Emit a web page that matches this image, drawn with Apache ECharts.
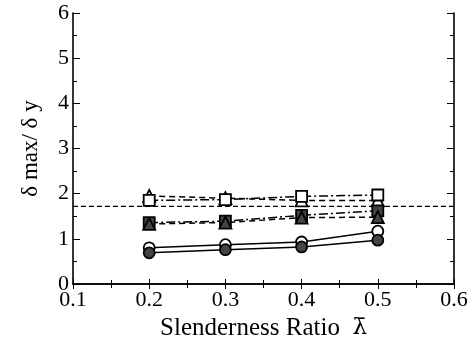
<!DOCTYPE html>
<html>
<head>
<meta charset="utf-8">
<script src="https://cdn.jsdelivr.net/npm/echarts@6/dist/echarts.min.js"></script>
<style>
  html, body { margin: 0; padding: 0; background: #fff; }
  #chart { width: 472px; height: 347px; }
</style>
</head>
<body>
<div id="chart"></div>
<script>
// Slenderness ratio values where results are sampled
const lambdaValues = [0.2, 0.3, 0.4, 0.5];

// δmax / δy for each case
const openTriangle = [1.95, 1.90, 1.85, 1.85];
const openSquare   = [1.85, 1.87, 1.94, 1.97];
const filledSquare = [1.36, 1.39, 1.52, 1.62];
const filledTriangle = [1.33, 1.36, 1.47, 1.48];
const openCircle   = [0.80, 0.87, 0.93, 1.17];
const filledCircle = [0.69, 0.76, 0.82, 0.97];

// Horizontal reference level
const referenceLevel = 1.72;
const xRange = [0.1, 0.6];
const yRange = [0, 6];

const serif = '"Liberation Serif", "DejaVu Serif", serif';

function pairs(ys) {
  return lambdaValues.map((x, i) => [x, ys[i]]);
}

function makeSeries(name, ys, symbol, filled, lineType) {
  return {
    name: name,
    type: 'line',
    data: pairs(ys),
    symbol: symbol,
    symbolSize: symbol === 'triangle' ? 12 : 11,
    showSymbol: true,
    itemStyle: {
      color: filled ? '#444' : '#fff',
      borderColor: '#000',
      borderWidth: 1.8
    },
    lineStyle: { color: '#000', width: 1.5, type: lineType },
    z: 3
  };
}

const chart = echarts.init(document.getElementById('chart'), null, { renderer: 'canvas' });

const axisLine = { show: true, lineStyle: { color: '#000', width: 1.6 } };

chart.setOption({
  animation: false,
  backgroundColor: '#fff',
  grid: { left: 73, top: 13, right: 18, bottom: 63, outerBoundsMode: 'none', containLabel: false },
  xAxis: [
    {
      type: 'value', min: xRange[0], max: xRange[1], interval: 0.1,
      axisLine: axisLine,
      axisTick: { show: true, inside: true, length: 5, lineStyle: { color: '#000', width: 1 } },
      minorTick: { show: true, splitNumber: 2, length: 4, lineStyle: { color: '#000', width: 1 } },
      splitLine: { show: false },
      axisLabel: {
        color: '#000', fontFamily: serif, fontSize: 22, margin: 5,
        formatter: v => v.toFixed(1)
      },
      name: '{t|Slenderness Ratio  }{l|\u03BB\u0304}',
      nameLocation: 'middle', nameGap: 28,
      nameTextStyle: {
        color: '#000', fontFamily: serif, fontSize: 25,
        rich: {
          t: { color: '#000', fontFamily: serif, fontSize: 25 },
          l: { color: '#000', fontFamily: '"DejaVu Serif", serif', fontSize: 23 }
        }
      }
    },
    {
      type: 'value', position: 'top', min: xRange[0], max: xRange[1], interval: 0.1,
      axisLine: axisLine,
      axisTick: { show: true, inside: true, length: 5, lineStyle: { color: '#000' } },
      minorTick: { show: true, splitNumber: 2, length: 4, lineStyle: { color: '#000' } },
      splitLine: { show: false },
      axisLabel: { show: false }
    }
  ],
  yAxis: [
    {
      type: 'value', min: yRange[0], max: yRange[1], interval: 1,
      axisLine: axisLine,
      axisTick: { show: true, inside: true, length: 7, lineStyle: { color: '#000', width: 1 } },
      minorTick: { show: true, splitNumber: 2, length: 4, lineStyle: { color: '#000', width: 1 } },
      splitLine: { show: false },
      axisLabel: { color: '#000', fontFamily: serif, fontSize: 22, margin: 4 },
      name: '\u03B4 max/ \u03B4 y',
      nameLocation: 'middle', nameGap: 31, nameRotate: 90,
      nameTextStyle: { color: '#000', fontFamily: serif, fontSize: 23 }
    },
    {
      type: 'value', position: 'right', min: yRange[0], max: yRange[1], interval: 1,
      axisLine: axisLine,
      axisTick: { show: true, inside: true, length: 7, lineStyle: { color: '#000' } },
      minorTick: { show: true, splitNumber: 2, length: 4, lineStyle: { color: '#000' } },
      splitLine: { show: false },
      axisLabel: { show: false }
    }
  ],
  series: [
    {
      name: 'reference',
      type: 'line',
      data: [[xRange[0], referenceLevel], [xRange[1], referenceLevel]],
      symbol: 'none',
      lineStyle: { color: '#000', width: 1.3, type: [5, 3] },
      z: 2
    },
    makeSeries('open triangle', openTriangle, 'triangle', false, [6, 4]),
    makeSeries('open square', openSquare, 'rect', false, [9, 3, 2, 3]),
    makeSeries('filled square', filledSquare, 'rect', true, [9, 3, 2, 3]),
    makeSeries('filled triangle', filledTriangle, 'triangle', true, [6, 4]),
    makeSeries('open circle', openCircle, 'circle', false, 'solid'),
    makeSeries('filled circle', filledCircle, 'circle', true, 'solid')
  ]
});
</script>
</body>
</html>
